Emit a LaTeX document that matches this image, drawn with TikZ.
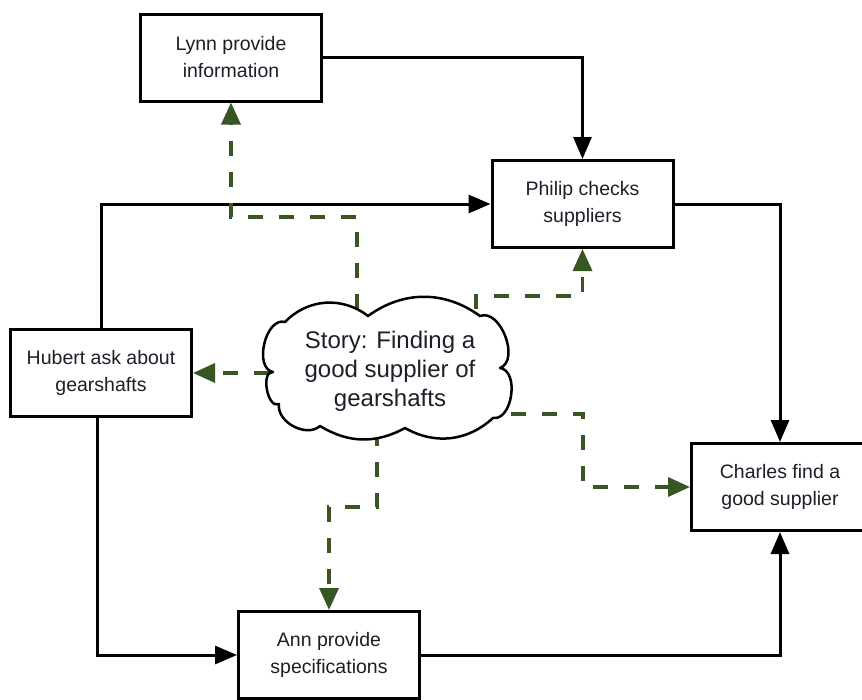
\documentclass[tikz,border=0pt]{standalone}
\usepackage{fontspec}
\setmainfont{Liberation Sans}
\usetikzlibrary{arrows.meta}
\definecolor{dgreen}{RGB}{56,86,35}
\definecolor{txt}{RGB}{30,30,40}
\pgfdeclarelayer{bg}
\pgfsetlayers{bg,main}
\tikzset{
  box/.style={draw=black, line width=3pt, fill=white, minimum width=181pt, minimum height=87pt,
    inner sep=0pt, align=center, text=txt, font=\fontsize{19.5pt}{27pt}\selectfont},
  flow/.style={draw=black, line width=3pt, -{Triangle[length=22pt,width=18pt]}},
  story/.style={draw=dgreen, line width=3.5pt, dash pattern=on 15pt off 16pt,
    -{Triangle[length=22pt,width=19pt]}},
  cloudline/.style={draw=black, line width=2.5pt, fill=white, line join=round},
  cloudtext/.style={align=center, text=txt, font=\fontsize{24pt}{29pt}\selectfont, inner sep=0pt}
}
\begin{document}
\begin{tikzpicture}[x=1pt,y=-1pt]
\useasboundingbox (0,0) rectangle (862,699);
\node[box] (lynn) at (231,57.5) {Lynn provide\\information};
\node[box] (philip) at (582.5,204) {Philip checks\\suppliers};
\node[box] (hubert) at (101,373) {Hubert ask about\\gearshafts};
\node[box, minimum width=177pt] (charles) at (780,487) {Charles find a\\good supplier};
\node[box] (ann) at (329,655) {Ann provide\\specifications};
% cloud outline
\path[cloudline] (273,372)
  to[bend left=92] (285,322)
  to[bend left=42] (368,316)
  to[bend left=36] (480,316)
  to[bend left=90] (500,368)
  to[bend left=90] (493,418)
  to[bend left=36] (405,428)
  to[bend left=30] (320,426)
  to[bend left=70] (279,404)
  to[bend left=105] cycle;
\node[cloudtext] (cloud) at (390,371) {Story: Finding a\\good supplier of\\gearshafts};
\coordinate (s1) at (357,340);
\coordinate (s2) at (476,340);
\coordinate (s3) at (300,373);
\coordinate (s4) at (480,414);
\coordinate (s5) at (377,400);
\begin{pgfonlayer}{bg}
\fill[white] (0,0) rectangle (862,699);
\draw[flow] (lynn.east) -| (philip.north);
\draw[flow] (hubert.north) |- (philip.west);
\draw[flow] (philip.east) -| (charles.north);
\draw[flow] ([xshift=-4pt]hubert.south) |- (ann.west);
\draw[flow] (ann.east) -| (charles.south);
\draw[story] (s1) -- ++(0,-123) -| (lynn.south);
\draw[story] (s2) -- ++(0,-44) -| (philip.south);
\draw[story] (s3) -- (s3 -| hubert.east);
\draw[story] (s4) -- ++(103,0) |- (charles.west);
\draw[story] (s5) -- ++(0,107) -| (ann.north);
\end{pgfonlayer}
\end{tikzpicture}
\end{document}
